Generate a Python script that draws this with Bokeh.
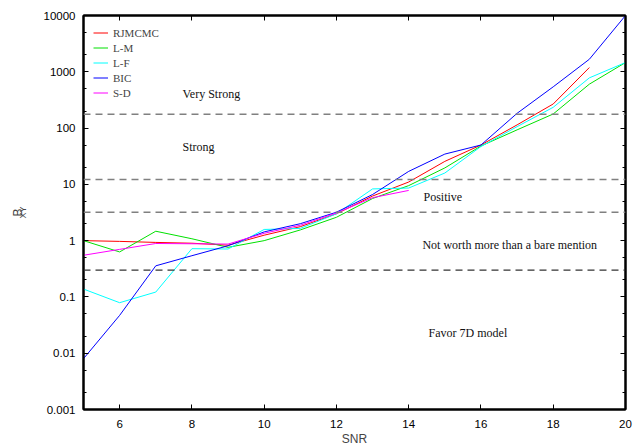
import math
from bokeh.plotting import figure
from bokeh.models import (FixedTicker, LinearAxis, LogAxis, Span, Label, Legend,
                          LegendItem, Range1d, Title)
from bokeh.embed import file_html
from bokeh.resources import INLINE

# ---- data ----
snr = [5, 6, 7, 8, 9, 10, 11, 12, 13, 14, 15, 16, 17, 18, 19, 20]
rjmcmc = [1.0, 0.97, 0.93, 0.9, 0.83, 1.25, 1.77, 3.0, 6.2, 11, 25.6, 50, 114, 268, 1190]
lm = [1.0, 0.63, 1.47, 1.08, 0.76, 1.0, 1.55, 2.6, 5.6, 9.5, 19.6, 48, 93, 178, 603, 1460]
lf = [0.138, 0.079, 0.122, 0.72, 0.71, 1.58, 1.65, 3.0, 8.3, 8.6, 15.9, 47, 106, 234, 780, 1460]
bic = [0.008, 0.047, 0.357, 0.54, 0.81, 1.43, 2.0, 3.2, 6.6, 17, 34.5, 50, 183, 541, 1670, 10000]
sd = [0.55, 0.70, 0.89, 0.88, 0.87, 1.35, 1.88, 3.1, 5.8, 7.8]

series_names = ["RJMCMC", "L-M", "L-F", "BIC", "S-D"]
series_vals = [rjmcmc, lm, lf, bic, sd]
series_colors = ["#ff0000", "#00e000", "#00ffff", "#0000ff", "#ff00ff"]

thresholds = [176, 12.2, 3.2, 0.3]
x_ticks = [6, 8, 10, 12, 14, 16, 18, 20]
y_ticks = [0.001, 0.01, 0.1, 1, 10, 100, 1000, 10000]
y_tick_labels = ["0.001", "0.01", "0.1", "1", "10", "100", "1000", "10000"]
y_minor = [m * 10.0 ** e for e in range(-3, 4) for m in (2, 5)]

region_text = ["Very Strong", "Strong", "Positive",
               "Not worth more than a bare mention", "Favor 7D model"]
region_x = [7.74, 7.74, 14.41, 14.38, 14.55]
region_y = [402, 46.6, 6.08, 0.83, 0.0231]

SANS = "Liberation Sans"
SERIF = "Liberation Serif"

p = figure(width=633, height=448, x_range=Range1d(5, 20),
           y_range=Range1d(0.001, 10000), y_axis_type="log",
           output_backend="svg", toolbar_location=None,
           min_border_left=83, min_border_right=8,
           min_border_top=15, min_border_bottom=37)
p.xgrid.visible = False
p.ygrid.visible = False
p.outline_line_color = "black"
p.outline_line_width = 2
p.background_fill_color = "white"
p.border_fill_color = "white"


def style_axis(ax, labels=True):
    ax.axis_line_color = "black"
    ax.axis_line_width = 2
    ax.major_tick_in = 5
    ax.major_tick_out = 0
    ax.minor_tick_in = 3
    ax.minor_tick_out = 0
    ax.major_tick_line_color = "black"
    ax.minor_tick_line_color = "black"
    ax.major_label_text_font = SANS
    ax.major_label_text_font_size = "11.5px"
    ax.major_label_text_color = "black" if labels else None


xb = p.xaxis[0]
xb.ticker = FixedTicker(ticks=x_ticks)
style_axis(xb)
xb.major_label_standoff = 10
xb.axis_label = "SNR"
xb.axis_label_text_font = SANS
xb.axis_label_text_font_style = "normal"
xb.axis_label_text_font_size = "12px"
xb.axis_label_standoff = 1

yl = p.yaxis[0]
yl.ticker = FixedTicker(ticks=y_ticks, minor_ticks=y_minor)
style_axis(yl)
yl.major_label_standoff = 8
yl.major_label_overrides = {t: s for t, s in zip(y_ticks, y_tick_labels)}

xt = LinearAxis(ticker=FixedTicker(ticks=x_ticks))
style_axis(xt, labels=False)
xt.major_label_text_font_size = "0px"
xt.major_label_standoff = 0
p.add_layout(xt, "above")

yr = LogAxis(ticker=FixedTicker(ticks=y_ticks, minor_ticks=y_minor))
style_axis(yr, labels=False)
yr.major_label_text_font_size = "0px"
yr.major_label_standoff = 0
p.add_layout(yr, "right")

for i, t in enumerate(thresholds):
    last = i == len(thresholds) - 1
    p.add_layout(Span(location=t, dimension="width",
                      line_color="#333333" if last else "#808080",
                      line_width=1.2 if last else 1.6,
                      line_dash="7 5"))

items = []
for name, vals, col in zip(series_names, series_vals, series_colors):
    r = p.line(snr[:len(vals)], vals, line_color=col, line_width=1)
    items.append(LegendItem(label=name, renderers=[r]))

leg = Legend(items=items, location="top_left")
leg.margin = 10
leg.padding = 5
leg.spacing = 0
leg.label_height = 15
leg.glyph_height = 15
leg.glyph_width = 15
leg.label_standoff = 5
leg.label_text_font = SERIF
leg.label_text_font_size = "11px"
leg.background_fill_alpha = 0
leg.border_line_color = None
p.add_layout(leg)

for txt, xv, yv in zip(region_text, region_x, region_y):
    p.add_layout(Label(x=xv, y=yv, text=txt, text_font=SERIF,
                       text_font_size="12px", text_baseline="middle",
                       text_align="left", text_color="#111111"))

# y-axis title B_XY built from two side titles
t_sub = Title(text="XY", text_font=SANS, text_font_size="9px",
              text_font_style="normal", align="center", offset=0, standoff=25)
t_main = Title(text="B", text_font=SANS, text_font_size="12px",
               text_font_style="normal", align="center", offset=0, standoff=-42)
p.add_layout(t_sub, "left")
p.add_layout(t_main, "left")

open("out.html", "w").write(file_html(p, INLINE))
